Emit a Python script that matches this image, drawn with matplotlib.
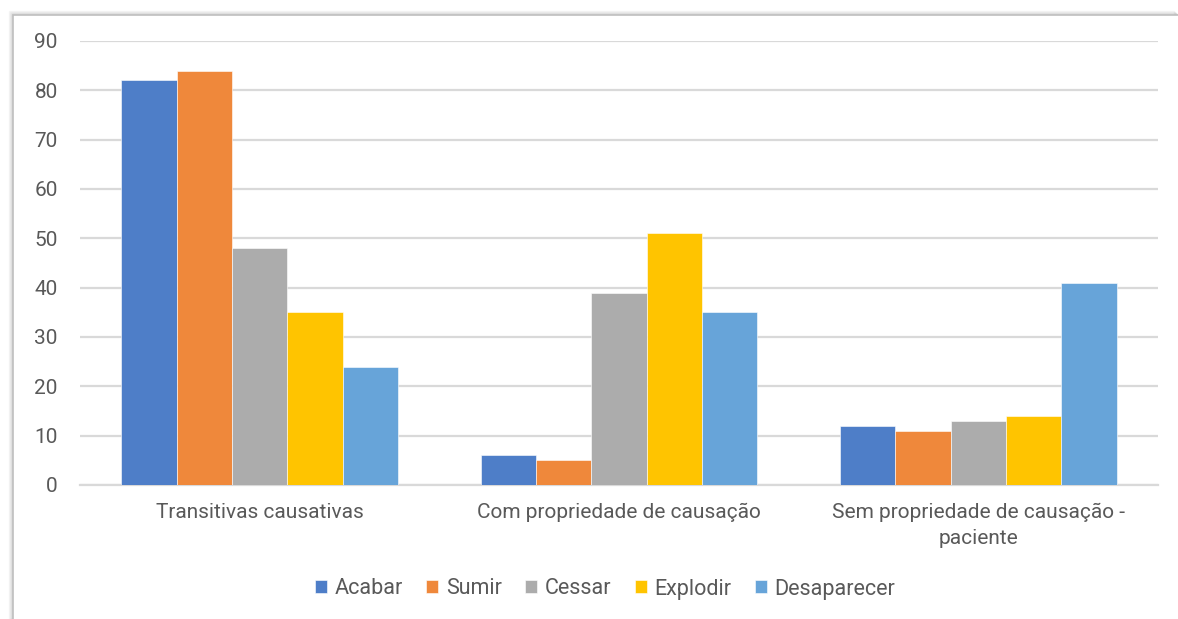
import numpy as np
import matplotlib.pyplot as plt
from matplotlib.patches import Rectangle

categories = ["Transitivas causativas", "Com propriedade de causação",
              "Sem propriedade de causação -\npaciente"]
series_names = ["Acabar", "Sumir", "Cessar", "Explodir", "Desaparecer"]
acabar = [82, 6, 12]
sumir = [84, 5, 11]
cessar = [48, 39, 13]
explodir = [35, 51, 14]
desaparecer = [24, 35, 41]
y_ticks = [0, 10, 20, 30, 40, 50, 60, 70, 80, 90]

colors = ["#4e7ec8", "#ef883b", "#acacac", "#ffc400", "#67a4d9"]
values = [acabar, sumir, cessar, explodir, desaparecer]

plt.rcParams['font.family'] = ['Roboto', 'DejaVu Sans']

fig = plt.figure(figsize=(11.78, 6.19), dpi=100)
W, H = 1178, 619

# chart frame with a soft shadow
for i, a in enumerate([0.04, 0.06, 0.09, 0.13]):
    fig.add_artist(Rectangle(((13 - 4 + i) / W, 0), (W - 13) / W, (604 + 4 - i) / H,
                             transform=fig.transFigure, facecolor="none",
                             edgecolor=(0, 0, 0, a), linewidth=1, zorder=-2))
fig.add_artist(Rectangle((13 / W, -0.01), (W - 12) / W, 604 / H + 0.01,
                         transform=fig.transFigure, facecolor="white",
                         edgecolor="#bfbfbf", linewidth=1.2, zorder=-1))

ax = fig.add_axes([80 / W, 134 / H, (1158 - 80) / W, (578 - 134) / H])
ax.set_facecolor("none")

x = np.arange(len(categories))
bar_w = 1 / (5 + 1.5)
for i, (name, vals) in enumerate(zip(series_names, values)):
    pos = x - 2.5 * bar_w + (i + 0.5) * bar_w
    ax.bar(pos, vals, bar_w, color=colors[i], label=name,
           edgecolor="white", linewidth=0.4, zorder=3)

ax.set_xlim(-0.5, 2.5)
ax.set_ylim(0, 90)
ax.set_yticks(y_ticks)
ax.yaxis.grid(True, color="#d9d9d9", linewidth=1.6, zorder=0)
ax.set_axisbelow(True)
for s in ["top", "right", "left"]:
    ax.spines[s].set_visible(False)
ax.spines["bottom"].set_color("#d9d9d9")
ax.spines["bottom"].set_linewidth(1.6)
ax.tick_params(axis="both", length=0, labelsize=15, colors="#595959")
ax.tick_params(axis="y", pad=16)
ax.tick_params(axis="x", pad=13)
ax.set_xticks(x)
ax.set_xticklabels(categories, linespacing=1.45)

fig.legend(loc="center", bbox_to_anchor=(605 / W, 1 - 589 / H), ncol=5,
           frameon=False, fontsize=15.5, handlelength=0.55, handleheight=0.55,
           handletextpad=0.35, columnspacing=1.1, labelcolor="#595959")

fig.savefig("out.png", dpi=100)
